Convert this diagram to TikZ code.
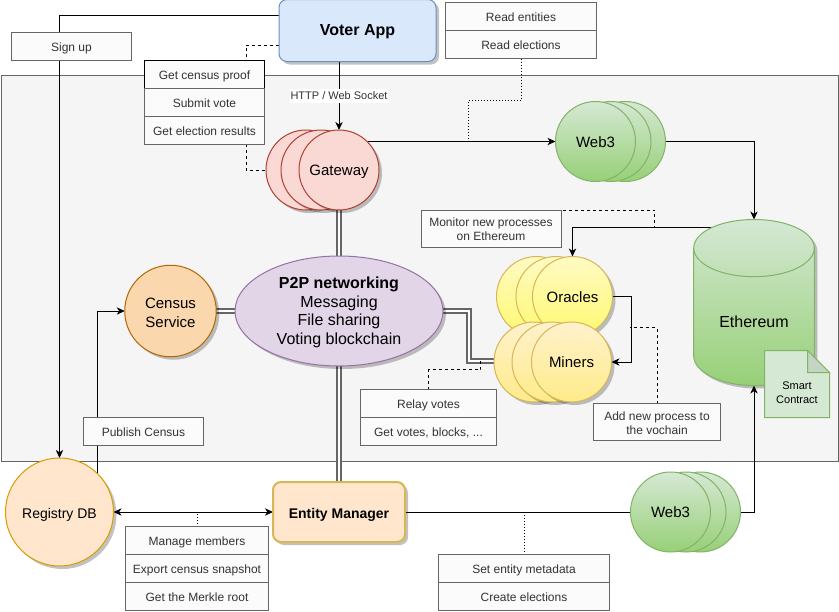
\documentclass[tikz,border=0pt]{standalone}
\usepackage{fontspec}
\setmainfont{Liberation Sans}
\usetikzlibrary{arrows.meta,shadows,calc,shapes.geometric}
\pgfdeclarelayer{panel}
\pgfdeclarelayer{wires}
\pgfsetlayers{panel,wires,main}
\definecolor{cbox}{HTML}{666666}
\definecolor{cboxfill}{HTML}{FBFBFB}
\definecolor{ctext}{HTML}{333333}
\definecolor{cpanel}{HTML}{F5F5F5}
\definecolor{cbluef}{HTML}{DAE8FC}
\definecolor{cblued}{HTML}{6C8EBF}
\definecolor{credf}{HTML}{FAD9D5}
\definecolor{credd}{HTML}{AE4132}
\definecolor{cgrt}{HTML}{D5E8D4}
\definecolor{cgrb}{HTML}{97D077}
\definecolor{cgrd}{HTML}{82B366}
\definecolor{cyelt}{HTML}{FFFAC4}
\definecolor{cyelb}{HTML}{FFF870}
\definecolor{cyeld}{HTML}{D6B656}
\definecolor{cmint}{HTML}{FFF2CC}
\definecolor{cminb}{HTML}{FFEB8A}
\definecolor{cpurf}{HTML}{E1D5E7}
\definecolor{cpurd}{HTML}{9673A6}
\definecolor{corf}{HTML}{FAD7AC}
\definecolor{cord}{HTML}{B46504}
\definecolor{cpeach}{HTML}{FFE6CC}
\definecolor{cpeachd}{HTML}{D79B00}
\definecolor{cfold}{HTML}{C4D6C3}
\tikzset{
  x=0.75pt,y=-0.75pt,
  every node/.style={inner sep=0pt,outer sep=0pt,align=center},
  wh/.style 2 args={minimum width=#1*0.75pt,minimum height=#2*0.75pt},
  dia/.style={circle,minimum size=#1*0.75pt},
  shad/.style={drop shadow={shadow xshift=2.25pt,shadow yshift=-2.25pt,fill=black,opacity=.24}},
  fs/.style={font=\fontsize{#1}{#1}\selectfont},
  cirtext/.style={text height=11.3pt,text depth=2.5pt},
  boxx/.style={draw=cbox,fill=cboxfill,text=ctext,line width=.75pt,fs=9,text height=9.5pt,text depth=2pt},
  boxtwo/.style={draw=cbox,fill=cboxfill,text=ctext,line width=.75pt,font=\fontsize{9}{10.5}\selectfont},
  gwc/.style={circle,minimum size=60pt,draw=credd,fill=credf,line width=.75pt,shad,fs=11.25,cirtext},
  webc/.style={circle,minimum size=60pt,draw=cgrd,top color=cgrt,bottom color=cgrb,line width=.75pt,fs=11.25,cirtext},
  orc/.style={circle,minimum size=60pt,draw=cyeld,top color=cyelt,bottom color=cyelb,line width=.75pt,shad,fs=11.25,cirtext},
  mic/.style={circle,minimum size=60pt,draw=cyeld,top color=cmint,bottom color=cminb,line width=.75pt,shad,fs=11.25,cirtext},
  wire/.style={draw=black,line width=.75pt},
  awire/.style={wire,-{Stealth[length=6pt,width=5.5pt,inset=1.8pt]}},
  bwire/.style={wire,{Stealth[length=6pt,width=5.5pt,inset=1.8pt]}-{Stealth[length=6pt,width=5.5pt,inset=1.8pt]}},
  dwire/.style={line width=1pt,double=white,double distance=2pt,draw=cbox},
  dashw/.style={draw=black,line width=.75pt,dash pattern=on 2.25pt off 2.25pt},
  dotw/.style={draw=black,line width=.75pt,dash pattern=on .75pt off 1.5pt},
}
\begin{document}
\begin{tikzpicture}
\useasboundingbox (0,0) rectangle (839,611);
\begin{pgfonlayer}{panel}
\node[draw=cbox,fill=cpanel,line width=.75pt,wh={837}{386}] (panel) at (419.5,268.5) {};
\end{pgfonlayer}

% Voter app
\node[draw=cblued,fill=cbluef,line width=.75pt,rounded corners=6pt,wh={157}{62},shad,fs=12,text height=9.7pt,text depth=2.5pt] (voter) at (357.5,30.5) {\textbf{Voter App}};

% Gateway
\node[gwc] (gw3) at (306,170) {};
\node[gwc] (gw2) at (321,170) {};
\node[gwc] (gw) at (339,170) {Gateway};

% Top Web3
\node[webc] (web3c) at (625.5,141.5) {};
\node[webc] (web3b) at (611,141.5) {};
\node[webc] (web3) at (595.5,141.5) {Web3};

% Ethereum
\coordinate (ethtop) at (754,219.5);
\coordinate (ethbot) at (754,385.5);
\coordinate (ethleft) at (712,227.5);
\path[draw=cgrd,top color=cgrt,bottom color=cgrb,line width=.75pt,shad]
  (693.7,248) .. controls (693.7,232) and (720.7,219.5) .. (ethtop)
  .. controls (787.3,219.5) and (814.3,232) .. (814.3,248) -- (814.3,356)
  .. controls (814.3,372) and (787.3,385.5) .. (ethbot)
  .. controls (720.7,385.5) and (693.7,372) .. (693.7,356) -- cycle;
\draw[cgrd,line width=.75pt] (693.7,248) .. controls (693.7,264) and (720.7,276.7) .. (754,276.7)
  .. controls (787.3,276.7) and (814.3,264) .. (814.3,248);
\node[fs=12] (eth) at (754,322) {Ethereum};

% Smart contract note
\draw[draw=cgrd,fill=cgrt,line width=.75pt] (764.5,350.5) -- (807.5,350.5) -- (829.5,372.5) -- (829.5,417.5) -- (764.5,417.5) -- cycle;
\draw[draw=cgrd,fill=cfold,line width=.75pt] (807.5,350.5) -- (807.5,372.5) -- (829.5,372.5) -- cycle;
\node[font=\fontsize{8.25}{10.5}\selectfont] (smart) at (797,392.5) {Smart\\Contract};

% Oracles
\node[orc] (or3) at (536.5,296.5) {};
\node[orc] (or2) at (556,296.5) {};
\node[orc] (or) at (572.5,296.5) {Oracles};

% Miners
\node[mic] (mi3) at (534,362) {};
\node[mic] (mi2) at (552,362) {};
\node[mic] (mi) at (571.5,362) {Miners};

% Core
\node[ellipse,draw=cpurd,fill=cpurf,line width=.75pt,wh={208}{110},shad,font=\fontsize{12}{14}\selectfont] (p2p) at (339,311) {\rule{0pt}{10.5pt}\textbf{P2P networking}\\Messaging\\File sharing\\Voting blockchain};
\node[circle,draw=cord,fill=corf,line width=.75pt,dia=91.5,shad,font=\fontsize{11.25}{14}\selectfont] (census) at (170.5,311) {\rule{0pt}{10.5pt}Census\\Service};
\node[circle,draw=cpeachd,fill=cpeach,line width=.75pt,dia=108,shad,fs=10.5,text height=11.4pt,text depth=2.2pt] (registry) at (59.5,512) {Registry DB};
\node[draw=cyeld,fill=cpeach,line width=1.5pt,rounded corners=6pt,wh={132}{60},shad,fs=10.5,text height=11.4pt,text depth=2.2pt] (em) at (339,512) {\textbf{Entity Manager}};

% Bottom Web3
\node[webc] (wb3c) at (700.5,512) {};
\node[webc] (wb3b) at (686,512) {};
\node[webc] (wb3) at (670.5,512) {Web3};

% Boxes
\node[boxx,wh={120}{28}] (signup) at (71.5,46.5) {Sign up};
\node[boxx,wh={120}{28},draw=black] (proof) at (204.5,74.5) {Get census proof};
\node[boxx,wh={120}{28}] (submit) at (204.5,102.5) {Submit vote};
\node[boxx,wh={120}{28}] (results) at (204.5,130.5) {Get election results};
\node[boxx,wh={151}{28}] (rent) at (521,16.5) {Read entities};
\node[boxx,wh={151}{28}] (relec) at (521,44.5) {Read elections};
\node[boxtwo,wh={140}{37}] (monitor) at (491,228.5) {\rule{0pt}{8pt}Monitor new processes\\on Ethereum};
\node[boxtwo,wh={127}{37}] (addnew) at (657,422) {\rule{0pt}{8pt}Add new process to\\the vochain};
\node[boxx,wh={136}{28}] (relay) at (428.5,403.5) {Relay votes};
\node[boxx,wh={136}{28}] (getv) at (428.5,431.5) {Get votes, blocks, ...};
\node[boxx,wh={120}{28}] (publish) at (143.5,431.5) {Publish Census};
\node[boxx,wh={143}{28}] (manage) at (197,540.5) {Manage members};
\node[boxx,wh={143}{28}] (export) at (197,568.5) {Export census snapshot};
\node[boxx,wh={143}{28}] (merkle) at (197,596.5) {Get the Merkle root};
\node[boxx,wh={171}{28}] (setm) at (524,568.5) {Set entity metadata};
\node[boxx,wh={171}{28}] (create) at (524,596.5) {Create elections};

% Edge label
\node[fill=white,text=ctext,font=\fontsize{8.25}{10}\selectfont,minimum height=10.5pt,minimum width=73pt] (http) at (339,96) {HTTP / Web Socket};

% Connector free ends
\coordinate (readjoin) at (468.5,141.5);
\coordinate (monjoin) at (654.5,227.5);
\coordinate (addjoin) at (630,327.5);
\coordinate (reljoin) at (480.5,361);
\coordinate (mgrjoin) at (197,513);
\coordinate (setjoin) at (524,513);

\begin{pgfonlayer}{wires}
\draw[dwire] (gw.south) -- (p2p.north);
\draw[dwire] (census.east) -- (p2p.west);
\draw[dwire] (p2p.south) -- (em.north);
\draw[dwire] (p2p.east) -- (469,311) -- (469,361) -- (mi3.west |- 0,361);

\draw[awire] (voter.west |- 0,15.5) -| (registry.north);
\draw[awire] (voter.south -| gw.north) -- (gw.north);
\draw[awire] (gw.center |- web3.west) -- (web3.west);
\draw[awire] (web3c.east) -| (ethtop);
\draw[awire] (ethleft) -| (or.north);
\draw[awire] (or.east) -- (631.5,296.5) -- (631.5,362) -- (mi.east);
\draw[awire] (97.5,0 |- registry.center) |- (census.west);
\draw[bwire] (registry.east) -- (em.west);
\draw[wire] (em.east) -- (wb3.west);
\draw[awire] (wb3c.east) -| (ethbot);

\draw[dashw] (voter.west |- 0,45) -- (246,45) -- (246,170) -- (gw3.west);
\draw[dotw] (relec.south) -- (521,100.5) -- (468.5,100.5) -- (readjoin);
\draw[dashw] (526.5,0 |- monitor.north) -- (654.5,210) -- (monjoin);
\draw[dashw] (addnew.north) -- (657,327.5) -- (addjoin);
\draw[dashw] (relay.north) -- (428.5,369.5) -- (480.5,369.5) -- (reljoin);
\draw[dotw] (manage.north) -- (mgrjoin);
\draw[dotw] (setm.north) -- (setjoin);
\end{pgfonlayer}
\end{tikzpicture}
\end{document}
